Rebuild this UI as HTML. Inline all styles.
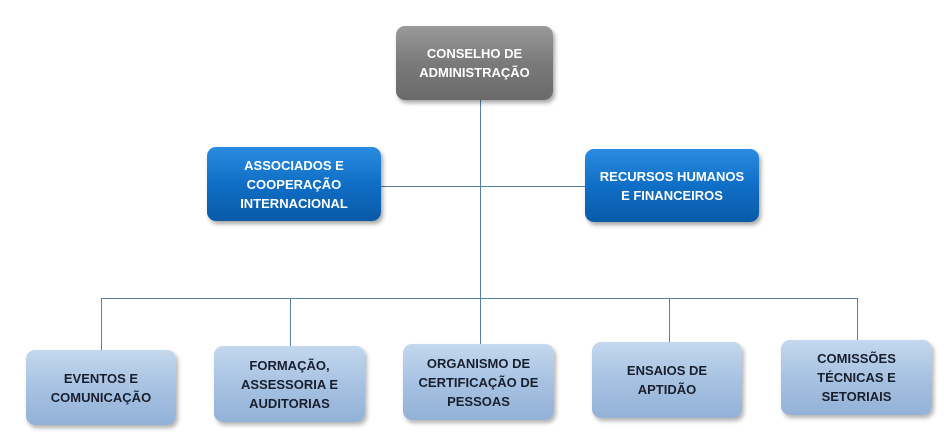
<!DOCTYPE html>
<html><head><meta charset="utf-8"><style>
body{margin:0;width:944px;height:445px;background:#fff;position:relative;overflow:hidden;font-family:"Liberation Sans",sans-serif}
.b{position:absolute;border-radius:9px;display:flex;align-items:center;justify-content:center;text-align:center;font-weight:bold;font-size:13px;line-height:19px;box-sizing:border-box}
.g{background:linear-gradient(180deg,#9a9a9a 0%,#7a7a7a 50%,#6a6a6a 100%);color:#fff;box-shadow:2px 3px 4px rgba(0,0,0,.35)}
.bl{background:linear-gradient(180deg,#2a8ce0 0%,#0f6fc6 50%,#0a5aa8 100%);color:#fff;box-shadow:2px 3px 4px rgba(0,0,0,.35)}
.lt{background:linear-gradient(180deg,#c4d8ee 0%,#a7c2e2 50%,#93b2d8 100%);color:#1a1f2e;box-shadow:2px 3px 4px rgba(0,0,0,.3)}
.l{position:absolute;background:#5a7fa6}
</style></head><body>
<div class="l" style="left:480px;top:100px;width:1px;height:198px"></div>
<div class="l" style="left:381px;top:186px;width:204px;height:1px"></div>
<div class="l" style="left:101px;top:298px;width:757px;height:1px"></div>
<div class="l" style="left:101px;top:298px;width:1px;height:52px"></div>
<div class="l" style="left:290px;top:298px;width:1px;height:48px"></div>
<div class="l" style="left:480px;top:298px;width:1px;height:46px"></div>
<div class="l" style="left:669px;top:298px;width:1px;height:44px"></div>
<div class="l" style="left:857px;top:298px;width:1px;height:42px"></div>

<div class="b g" style="left:396px;top:26px;width:157px;height:74px">CONSELHO DE<br>ADMINISTRAÇÃO</div>
<div class="b bl" style="left:207px;top:147px;width:174px;height:74px">ASSOCIADOS E<br>COOPERAÇÃO<br>INTERNACIONAL</div>
<div class="b bl" style="left:585px;top:149px;width:174px;height:73px">RECURSOS HUMANOS<br>E FINANCEIROS</div>

<div class="b lt" style="left:26px;top:350px;width:150px;height:75px">EVENTOS E<br>COMUNICAÇÃO</div>
<div class="b lt" style="left:214px;top:346px;width:151px;height:76px">FORMAÇÃO,<br>ASSESSORIA E<br>AUDITORIAS</div>
<div class="b lt" style="left:403px;top:344px;width:151px;height:76px">ORGANISMO DE<br>CERTIFICAÇÃO DE<br>PESSOAS</div>
<div class="b lt" style="left:592px;top:342px;width:150px;height:76px">ENSAIOS DE<br>APTIDÃO</div>
<div class="b lt" style="left:781px;top:340px;width:151px;height:75px">COMISSÕES<br>TÉCNICAS E<br>SETORIAIS</div>
</body></html>
